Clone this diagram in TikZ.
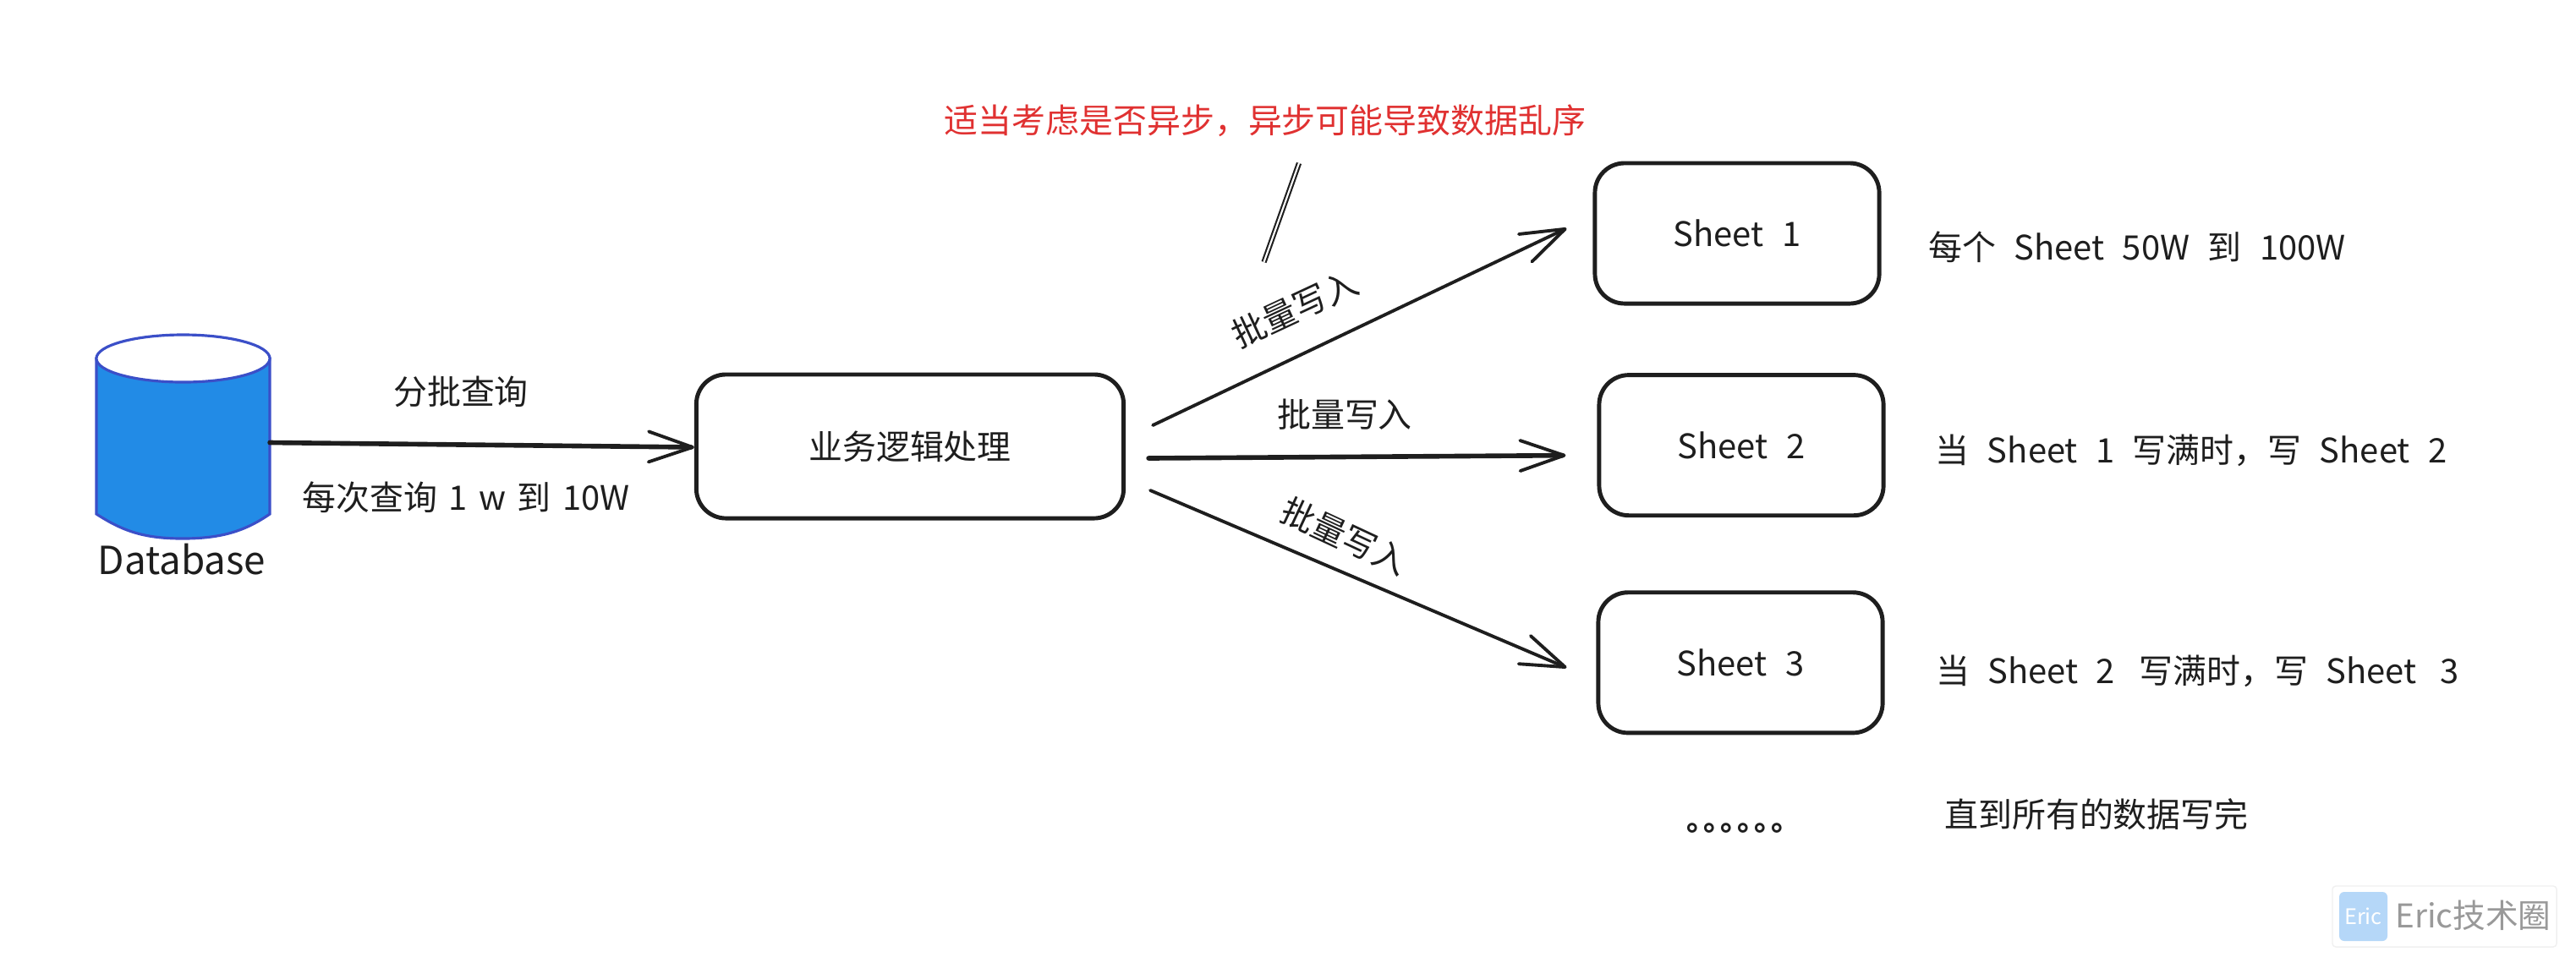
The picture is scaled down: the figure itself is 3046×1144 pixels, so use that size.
\documentclass[tikz,border=0pt]{standalone}
\usepackage{xcolor}
\usepackage{fontspec}
\setmainfont[WordSpace=2.4]{Noto Sans CJK SC}
\newfontfamily\tightfont[WordSpace=1.5]{Noto Sans CJK SC}
\usepackage{tikz}
\usetikzlibrary{arrows.meta}
\definecolor{inkline}{HTML}{1E1E1E}
\definecolor{inkred}{HTML}{E03131}
\definecolor{dbfill}{HTML}{228BE6}
\definecolor{dbline}{HTML}{3B4FC8}
\definecolor{markblue}{HTML}{B5D7F8}
\tikzset{
	textlabel/.style = {
		inner sep = 0pt,
		text = inkline,
		font = \fontsize{11.35pt}{14pt}\selectfont,
	},
	flowblock/.style = {
		textlabel,
		rectangle,
		align = center,
		rounded corners = 0.35cm,
		line width = 1.4pt,
		draw = inkline,
	},
	sheetblock/.style = {
		flowblock,
		minimum width = 3.36cm,
		minimum height = 1.66cm,
	},
	dbpart/.style = {
		line width = 0.9pt,
		draw = dbline,
	},
	flowline/.style = {
		-{Straight Barb[length = 0.52cm, width = 0.36cm, line width = 1.1pt, round]},
		draw = inkline,
		line cap = round,
		line width = 1.1pt,
	},
	thickline/.style = {
		flowline,
		line width = 1.6pt,
	},
	slashline/.style = {
		draw = inkline,
		line width = 0.6pt,
		double = white,
		double distance = 0.6pt,
	},
}

\begin{document}
\begin{tikzpicture}[x = 0.01cm, y = -0.01cm]
	\useasboundingbox (0,0) rectangle (3046,1144);

	\node[minimum width = 2.05cm,minimum height = 2.41cm,inner sep = 0pt,outer sep = 0pt](database) at (216.5,516.5){};
	\draw[dbpart,fill = dbfill](114,424)--(114,608) .. controls (145,628) and (170,637) .. (216,637) .. controls (262,637) and (290,628) .. (319,608)--(319,424)--cycle;
	\draw[dbpart,fill = white](216.5,424) ellipse [x radius = 1.025cm, y radius = 0.28cm];
	\node[textlabel,font = \fontsize{13pt}{16pt}\selectfont](dbtext) at (215,662){Database};
	\node[flowblock,minimum width = 5.05cm,minimum height = 1.70cm](logic) at (1076,528){业务逻辑处理};

	\node[sheetblock](sheet1) at (2054,276){Sheet 1};
	\node[sheetblock,below of = sheet1,node distance = 2.505cm,xshift = 0.05cm](sheet2){Sheet 2};
	\node[sheetblock,below of = sheet2,node distance = 2.57cm,xshift = -0.01cm](sheet3){Sheet 3};

	\node[textlabel](querytext) at (545,463){分批查询};
	\node[textlabel,font = \fontsize{11.35pt}{14pt}\selectfont\tightfont](sizetext) at (551,588){每次查询 1 w 到 10W};
	\node[textlabel,text = inkred](asynctext) at (1496,143){适当考虑是否异步，异步可能导致数据乱序};
	\node[textlabel,rotate = 25](batch1) at (1531,365){批量写入};
	\node[textlabel](batch2) at (1590,490){批量写入};
	\node[textlabel,rotate = -25](batch3) at (1590,634){批量写入};

	\node[textlabel](note1) at (2527,292){每个 Sheet 50W 到 100W};
	\node[textlabel](note2) at (2591,533){当 Sheet 1 写满时，写 Sheet 2};
	\node[textlabel](note3) at (2598.5,794){当 Sheet 2\hspace{0.07cm} 写满时，写 Sheet\hspace{0.07cm} 3};
	\node[textlabel,font = \fontsize{10pt}{12pt}\bfseries\selectfont](moredots) at (2062,980){。\kern-0.153cm。\kern-0.153cm。\kern-0.153cm。\kern-0.153cm。\kern-0.153cm。};
	\node[textlabel](note4) at (2479,963){直到所有的数据写完};

	\draw[thickline]([shift = {(0,7)}]database.east)--([shift = {(0,1)}]logic.west);
	\draw[flowline]([shift = {(32,-25)}]logic.east)--([shift = {(-31,-6)}]sheet1.west);
	\draw[thickline]([shift = {(27,14)}]logic.east)--([shift = {(-37,12)}]sheet2.west);
	\draw[flowline]([shift = {(29,52)}]logic.east)--([shift = {(-35,6)}]sheet3.west);

	\coordinate (slashtop) at (1536,193);
	\coordinate (slashend) at (1494.5,310);
	\draw[slashline](slashtop)--(slashend);

	\node[draw = black!6,fill = white,rounded corners = 0.04cm,minimum width = 2.65cm,minimum height = 0.72cm,inner sep = 0pt](markbox) at (2890.5,1084){};
	\node[fill = markblue,rounded corners = 0.06cm,minimum width = 0.57cm,minimum height = 0.58cm,inner sep = 0pt,text = white,font = \fontsize{7.2pt}{9pt}\selectfont](markicon) at (2794.5,1084){Eric};
	\node[inner sep = 0pt,text = black!40,font = \fontsize{11pt}{13pt}\selectfont](marktext) at (2924.5,1083){Eric技术圈};
\end{tikzpicture}
\end{document}
